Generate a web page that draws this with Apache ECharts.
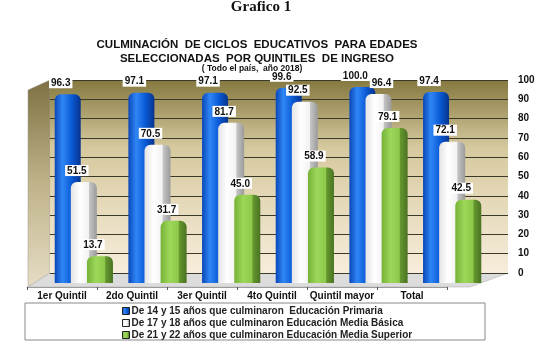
<!DOCTYPE html>
<html>
<head>
<meta charset="utf-8">
<script src="https://cdn.jsdelivr.net/npm/echarts@6/dist/echarts.min.js"></script>
<style>
  html, body { margin: 0; padding: 0; background: #fff; }
  #main { width: 550px; height: 344px; }
</style>
</head>
<body>
<div id="main"></div>
<script>
// categorias (quintiles)
var categories = ['1er Quintil', '2do Quintil', '3er Quintil', '4to Quintil', 'Quintil mayor', 'Total']
// series
var seriesNames = [
  'De 14 y 15 años que culminaron  Educación Primaria',
  'De 17 y 18 años que culminaron Educación Media Básica',
  'De 21 y 22 años que culminaron Educación Media Superior'
]
var primaria = [96.3, 97.1, 97.1, 99.6, 100.0, 97.4]
var mediaBasica = [51.5, 70.5, 81.7, 92.5, 96.4, 72.1]
var mediaSuperior = [13.7, 31.7, 45.0, 58.9, 79.1, 42.5]
var yTicks = [0, 10, 20, 30, 40, 50, 60, 70, 80, 90, 100]

var chart = echarts.init(document.getElementById('main'), null, { renderer: 'canvas' })

function grad(stops) {
  return new echarts.graphic.LinearGradient(0, 0, 1, 0, stops)
}
// cilindros
var blueFill = grad([
  { offset: 0, color: '#0a47b8' },
  { offset: 0.3, color: '#2f86f5' },
  { offset: 0.65, color: '#0a5ad6' },
  { offset: 1, color: '#06338c' }
])
var whiteFill = grad([
  { offset: 0, color: '#e4e4e4' },
  { offset: 0.35, color: '#ffffff' },
  { offset: 0.68, color: '#f2f2f2' },
  { offset: 0.72, color: '#c4c4c4' },
  { offset: 1, color: '#9a9a9a' }
])
var greenFill = grad([
  { offset: 0, color: '#74b236' },
  { offset: 0.35, color: '#9ed85a' },
  { offset: 0.68, color: '#8cc84a' },
  { offset: 0.72, color: '#65972f' },
  { offset: 1, color: '#4a7322' }
])

var labelStyle = {
  show: true,
  position: 'top',
  offset: [-7, -1],
  formatter: function (p) { return p.value.toFixed(1) },
  fontFamily: 'Liberation Sans',
  fontWeight: 'bold',
  fontSize: 10,
  color: '#111',
  backgroundColor: '#ffffff',
  padding: [1, 2, 0, 2]
}

// shift: etiquetas movidas para que no se tapen (como en el original)
function barSeries(name, data, fill, z, shift) {
  return {
    name: name,
    type: 'bar',
    xAxisIndex: 1,
    yAxisIndex: 1,
    barWidth: 26,
    barGap: '-38%',
    z: z,
    animation: false,
    itemStyle: { color: fill, borderRadius: [6, 6, 0, 0] },
    label: labelStyle,
    data: data.map(function (v, i) {
      if (shift && shift[i]) return { value: v, label: { offset: shift[i] } }
      return v
    })
  }
}

var option = {
  animation: false,
  textStyle: { fontFamily: 'Liberation Sans' },
  title: [
    {
      text: 'Grafico 1',
      left: 261, top: 0, textAlign: 'center', padding: 0,
      textStyle: { fontFamily: 'Liberation Serif', fontSize: 15, fontWeight: 'bold', color: '#111' }
    },
    {
      text: 'CULMINACIÓN  DE CICLOS  EDUCATIVOS  PARA EDADES\nSELECCIONADAS  POR QUINTILES  DE INGRESO',
      left: 257, top: 38, textAlign: 'center', padding: 0,
      textStyle: { fontFamily: 'Liberation Sans', fontSize: 11.5, fontWeight: 'bold', color: '#111', lineHeight: 14 }
    },
    {
      text: '( Todo el país,  año 2018)',
      left: 252, top: 64, textAlign: 'center', padding: 0,
      textStyle: { fontFamily: 'Liberation Sans', fontSize: 8.5, fontWeight: 'bold', color: '#111' }
    }
  ],
  legend: {
    orient: 'vertical',
    left: 122,
    top: 306,
    height: 60,
    padding: 0,
    itemGap: 2,
    itemWidth: 7,
    itemHeight: 7,
    icon: 'rect',
    data: seriesNames,
    textStyle: { fontFamily: 'Liberation Sans', fontWeight: 'bold', fontSize: 10, color: '#222', padding: [0, 0, 0, -3] },
    itemStyle: { borderColor: '#222', borderWidth: 1 }
  },
  graphic: [
    // caja de la leyenda
    { type: 'rect', z: -1, shape: { x: 25, y: 303, width: 460, height: 37 }, style: { fill: '#fff', stroke: '#888', lineWidth: 1 } },
    // pared lateral
    { type: 'polygon', z: -1, shape: { points: [[28, 90], [50, 80], [50, 273], [28, 287]] },
      style: { fill: new echarts.graphic.LinearGradient(0, 0, 0, 1, [{ offset: 0, color: '#7d7142' }, { offset: 0.5, color: '#bfb38a' }, { offset: 1, color: '#e6dcc4' }]), stroke: '#999', lineWidth: 0.5 } },
    // piso
    { type: 'polygon', z: -1, shape: { points: [[28, 287], [470, 287], [508, 273], [50, 273]] },
      style: { fill: '#dcdcdc', stroke: '#aaa', lineWidth: 0.5 } }
  ],
  grid: [
    { left: 50, right: 42, top: 80, bottom: 71, show: true, borderWidth: 0,
      backgroundColor: new echarts.graphic.LinearGradient(0, 0, 0, 1, [
        { offset: 0, color: '#85783f' },
        { offset: 0.35, color: '#d6c99e' },
        { offset: 1, color: '#f7eddb' }
      ]) },
    { left: 47, right: 61, top: 87, bottom: 61 },
    { left: 27, right: 103, top: 283, bottom: 57 }
  ],
  xAxis: [
    { type: 'category', gridIndex: 0, data: categories, show: false },
    { type: 'category', gridIndex: 1, data: categories, show: false },
    { type: 'category', gridIndex: 2, data: categories,
      axisLine: { show: true, lineStyle: { color: '#9a9a9a' } },
      axisTick: { show: true, length: 3, lineStyle: { color: '#555' } },
      axisLabel: { interval: 0, fontFamily: 'Liberation Sans', fontWeight: 'bold', fontSize: 10, color: '#111', margin: 4 } }
  ],
  yAxis: [
    { type: 'value', gridIndex: 0, position: 'right', min: 0, max: 100, interval: 10,
      axisLine: { show: false }, axisTick: { show: false },
      axisLabel: { fontFamily: 'Liberation Sans', fontWeight: 'bold', fontSize: 10, color: '#111', margin: 10,
        formatter: function (v) { return yTicks.indexOf(v) >= 0 ? String(v) : '' } },
      splitLine: { lineStyle: { color: '#3a3a2a', width: 1 } } },
    { type: 'value', gridIndex: 1, min: 0, max: 100, show: false, splitLine: { show: false } },
    { type: 'value', gridIndex: 2, show: false, splitLine: { show: false } }
  ],
  series: [
    barSeries(seriesNames[0], primaria, blueFill, 3),
    barSeries(seriesNames[1], mediaBasica, whiteFill, 4, { 4: [3, -1] }),
    barSeries(seriesNames[2], mediaSuperior, greenFill, 5)
  ],
  color: ['#0a50c8', '#f4f4f4', '#7fbf3f']
}
chart.setOption(option)
</script>
</body>
</html>
